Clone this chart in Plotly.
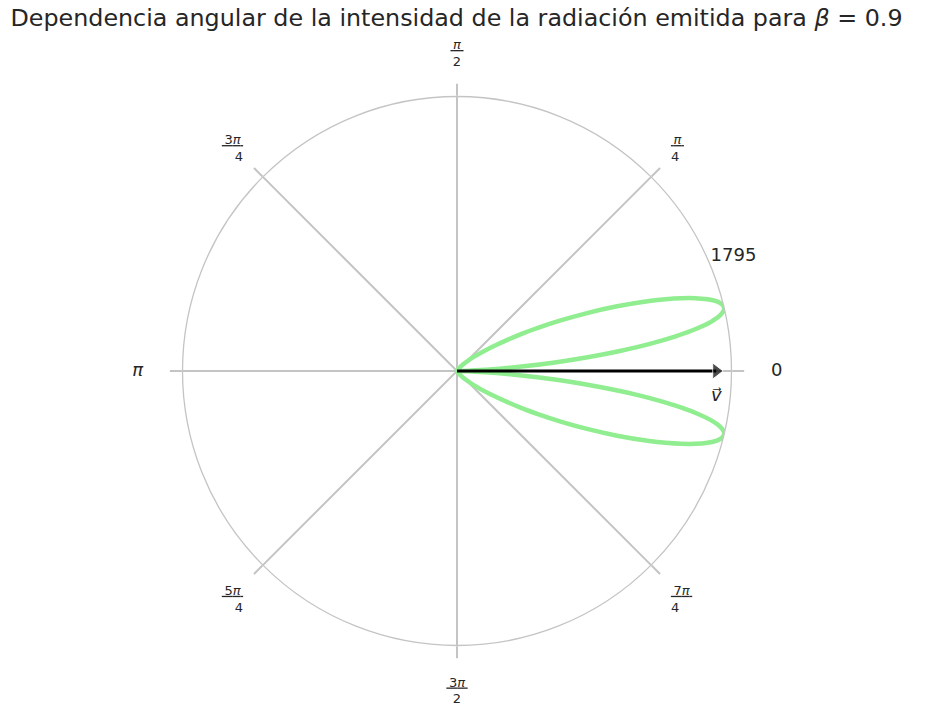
import plotly.graph_objects as go

# ---- data ----
theta_deg = [0, 1, 2, 3, 4, 5, 6, 7, 8, 9, 10, 11, 12, 13, 14, 15, 16, 17, 18, 19, 20,
             22, 24, 26, 28, 30, 35, 40, 45, 50, 60, 70, 90, 120, 150, 180,
             210, 240, 270, 290, 300, 310, 315, 320, 325, 330, 332, 334, 336, 338,
             340, 341, 342, 343, 344, 345, 346, 347, 348, 349, 350, 351, 352, 353,
             354, 355, 356, 357, 358, 359, 360]
intensity = [0, 30, 118, 258, 437, 642, 859, 1073, 1273, 1447, 1589, 1694, 1761, 1793, 1790,
             1759, 1703, 1629, 1540, 1442, 1338,
             1129, 931, 754, 604, 479, 263, 143, 79, 44, 15, 5.6, 1, 0.12, 0.01, 0,
             0.01, 0.12, 1, 5.6, 15, 44, 79, 143, 263, 479, 604, 754, 931, 1129,
             1338, 1442, 1540, 1629, 1703, 1759, 1790, 1793, 1761, 1694, 1589, 1447, 1273, 1073,
             859, 642, 437, 258, 118, 30, 0]
r_max = 1795
radial_tick_angle = 22.5
arrow_length = 1695

angle_ticks = [0, 45, 90, 135, 180, 225, 270, 315]
def frac(n, d):
    return "<u>\u2009" + n + "\u2009</u><br>" + d
angle_labels = [
    '<span style="font-size:18px">\u00a0\u00a00</span>',
    frac("<i>π</i>", "4"),
    frac("<i>π</i>", "2"),
    frac("3<i>π</i>", "4"),
    '<span style="font-size:18px"><i>π</i>\u00a0\u00a0</span>',
    frac("5<i>π</i>", "4"),
    frac("3<i>π</i>", "2"),
    frac("7<i>π</i>", "4"),
]

title_text = "Dependencia angular de la intensidad de la radiación emitida para <i>β</i> = 0.9"

W, H = 926, 720
cx, cy, R = 457, 371, 274.5
R_lab = 302

def dom(rad):
    return dict(x=[(cx - rad) / W, (cx + rad) / W],
                y=[(H - cy - rad) / H, (H - cy + rad) / H])

fig = go.Figure()

fig.add_trace(go.Scatterpolar(
    r=intensity, theta=theta_deg, mode="lines",
    line=dict(color="#90EE90", width=4.5, shape="spline", smoothing=0.6),
    subplot="polar", hoverinfo="skip", showlegend=False))

fig.add_trace(go.Scatterpolar(
    r=[0, arrow_length], theta=[0, 0], mode="lines+markers",
    line=dict(color="black", width=3),
    marker=dict(symbol="triangle-right", size=[0, 14], color="black"),
    subplot="polar", hoverinfo="skip", showlegend=False, cliponaxis=False))

fig.add_trace(go.Scatterpolar(
    r=[r_max], theta=[radial_tick_angle], mode="text", text=["1795"],
    textposition="top right", textfont=dict(size=18, color="#262626", family="DejaVu Sans"),
    subplot="polar", hoverinfo="skip", showlegend=False, cliponaxis=False))

fig.add_trace(go.Scatterpolar(
    r=[arrow_length], theta=[0], mode="text+markers", text=["<i>v</i>\u20d7"],
    marker=dict(size=24, opacity=0),
    textposition="bottom center", textfont=dict(size=18, color="#262626", family="DejaVu Sans"),
    subplot="polar", hoverinfo="skip", showlegend=False, cliponaxis=False))

fig.add_trace(go.Scatterpolar(
    r=[0], theta=[0], mode="markers", marker=dict(size=1, opacity=0),
    subplot="polar2", hoverinfo="skip", showlegend=False))

fig.update_layout(
    width=W, height=H,
    margin=dict(l=0, r=0, t=0, b=0),
    paper_bgcolor="white",
    font=dict(family="DejaVu Sans", color="#262626"),
    title=dict(text=title_text, x=0.493, xanchor="center", y=0.976, yanchor="middle",
               font=dict(size=23.8, family="DejaVu Sans", color="#262626")),
    polar=dict(
        domain=dom(R),
        bgcolor="white",
        angularaxis=dict(
            rotation=0, direction="counterclockwise",
            tickmode="array", tickvals=angle_ticks, showticklabels=False,
            ticks="outside", ticklen=12, tickcolor="#c4c4c4", tickwidth=1.5,
            showgrid=True, gridcolor="#c4c4c4", gridwidth=1.5,
            showline=True, linecolor="#c4c4c4", linewidth=1.3),
        radialaxis=dict(range=[0, r_max], showticklabels=False, showgrid=False,
                        showline=False, ticks=""),
    ),
    polar2=dict(
        domain=dom(R_lab),
        bgcolor="rgba(0,0,0,0)",
        angularaxis=dict(
            rotation=0, direction="counterclockwise",
            tickmode="array", tickvals=angle_ticks, ticktext=angle_labels,
            showticklabels=True, ticks="", showgrid=False, showline=False,
            tickfont=dict(size=13, family="DejaVu Sans", color="#262626")),
        radialaxis=dict(visible=False, range=[0, 1]),
    ),
)

fig.write_html("out.html", config={"displayModeBar": False},
               post_script="document.body.style.margin='0px';")
